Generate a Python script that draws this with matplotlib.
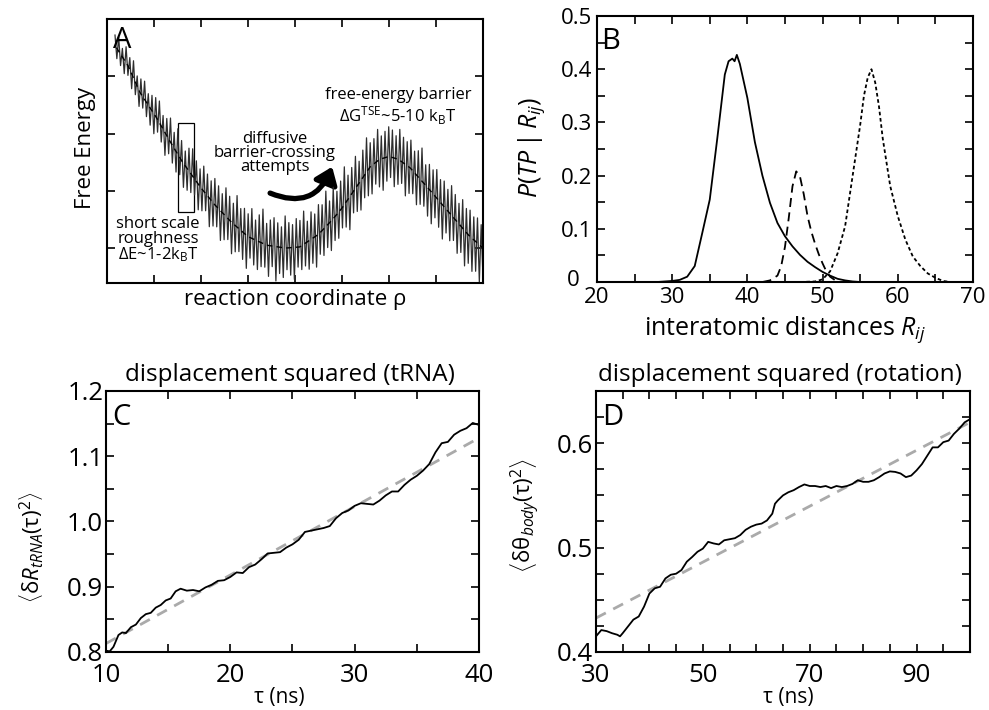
import numpy as np
import matplotlib
matplotlib.use('Agg')
import matplotlib.pyplot as plt
from matplotlib.ticker import MultipleLocator, FixedLocator, FuncFormatter
from matplotlib.patches import Rectangle, FancyArrowPatch

plt.rcParams['font.family'] = ['Open Sans', 'DejaVu Sans']
plt.rcParams['mathtext.fontset'] = 'custom'
plt.rcParams['mathtext.rm'] = 'Open Sans'
plt.rcParams['mathtext.it'] = 'Open Sans:italic'
plt.rcParams['mathtext.bf'] = 'Open Sans:bold'

# ---- panel A: schematic landscape (reaction coordinate in tick units 0..8)
smooth_x = [0.2, 0.45, 0.7, 1.05, 1.4, 1.6, 2.0, 2.3, 2.65, 3.0, 3.4, 3.8, 4.1, 4.5,
            4.8, 5.0, 5.25, 5.6, 5.8, 6.0, 6.2, 6.45, 6.85, 7.3, 7.7, 8.0]
smooth_y = [3.5, 3.18, 2.72, 2.28, 1.78, 1.51, 1.05, 0.75, 0.45, 0.2, 0.05, 0.0, 0.02, 0.24,
            0.5, 0.7, 1.0, 1.42, 1.55, 1.6, 1.55, 1.4, 1.03, 0.6, 0.22, 0.0]
# short scale roughness read as spike offsets around the dashed curve
rough_off = [0.22, -0.18, 0.25, -0.20, 0.15, -0.24, 0.28, -0.17, 0.21, -0.26,
             0.30, -0.22, 0.18, -0.28, 0.26, -0.20, 0.32, -0.25, 0.20, -0.30,
             0.27, -0.35, 0.33, -0.22, 0.38, -0.28, 0.24, -0.40, 0.30, -0.26,
             0.42, -0.31, 0.28, -0.36, 0.45, -0.30, 0.35, -0.42, 0.26, -0.38,
             0.40, -0.33, 0.48, -0.28, 0.36, -0.45, 0.31, -0.38, 0.44, -0.30,
             0.38, -0.50, 0.34, -0.41, 0.46, -0.35, 0.40, -0.52, 0.33, -0.44,
             0.50, -0.37, 0.42, -0.55, 0.36, -0.46, 0.55, -0.40, 0.38, -0.48,
             0.44, -0.58, 0.40, -0.36, 0.52, -0.45, 0.35, -0.50, 0.47, -0.42,
             0.60, -0.40, 0.38, -0.54, 0.45, -0.36, 0.50, -0.60, 0.42, -0.46,
             0.36, -0.52, 0.56, -0.38, 0.44, -0.48, 0.40, -0.56, 0.50, -0.35,
             0.46, -0.42, 0.58, -0.40, 0.36, -0.50, 0.48, -0.44, 0.40, -0.55,
             0.52, -0.38, 0.45, -0.47, 0.62, -0.40, 0.38, -0.52, 0.55, -0.42,
             0.40, -0.46, 0.50, -0.36, 0.66, -0.44, 0.42, -0.58, 0.46, -0.38,
             0.56, -0.45, 0.38, -0.52, 0.48, -0.40, 0.60, -0.46, 0.42, -0.50,
             0.44, -0.38, 0.55, -0.48, 0.40, -0.56, 0.46, -0.42, 0.52, -0.36,
             0.48, -0.50, 0.40, -0.44, 0.54, -0.38, 0.45, -0.55, 0.42, -0.46,
             0.50, -0.40, 0.38, -0.52, 0.46, -0.44, 0.58, -0.40, 0.36, -0.50,
             0.44, -0.56, 0.42, -0.38, 0.50, -0.47, 0.40, -0.60, 0.45, -0.42,
             0.38, -0.48, 0.52, -0.40, 0.44, -0.55, 0.36, -0.46, 0.50, -0.62,
             0.42, -0.50, 0.46, -0.58, 0.40, -0.52, 0.44, -0.65, 0.38, -0.55]

# ---- panel B: P(TP | Rij)
b1_x = [26, 28, 30, 31, 32, 33, 34, 35, 36, 37, 37.5, 38, 38.3, 38.6, 39, 40, 41, 42, 43,
        44, 45, 46, 47, 48, 49, 50, 51, 52, 53, 54, 55]
b1_y = [0.0, 0.0, 0.002, 0.004, 0.01, 0.03, 0.092, 0.155, 0.27, 0.39, 0.415, 0.42, 0.415,
        0.427, 0.41, 0.346, 0.263, 0.20, 0.149, 0.111, 0.086, 0.067, 0.051, 0.038, 0.028,
        0.019, 0.012, 0.006, 0.003, 0.001, 0.0]
b2_x = [42, 43, 44, 44.5, 45, 45.5, 46, 46.5, 47, 47.5, 48, 48.5, 49, 49.5, 50, 50.5, 51, 52]
b2_y = [0.0, 0.003, 0.012, 0.03, 0.066, 0.12, 0.18, 0.208, 0.198, 0.165, 0.124, 0.095,
        0.072, 0.052, 0.035, 0.02, 0.01, 0.0]
b3_x = [47, 49, 50, 51, 52, 53, 54, 55, 55.5, 56, 56.5, 57, 57.5, 58, 59, 60, 61, 62, 63,
        64, 65, 66, 67]
b3_y = [0.0, 0.001, 0.005, 0.02, 0.054, 0.105, 0.20, 0.295, 0.35, 0.384, 0.40, 0.375, 0.33,
        0.27, 0.18, 0.124, 0.08, 0.048, 0.03, 0.016, 0.008, 0.002, 0.0]

# ---- panel C: tRNA displacement squared
c_x = [10.0, 10.3, 10.6, 11.0, 11.3, 11.6, 12.0, 12.4, 12.8, 13.2, 13.6, 14.0, 14.4, 14.8,
       15.2, 15.6, 16.0, 16.5, 17.0, 17.5, 18.0, 18.5, 19.0, 19.5, 20.0, 20.5, 21.0, 21.5,
       22.0, 22.5, 23.0, 23.5, 24.0, 24.5, 25.0, 25.5, 26.0, 26.5, 27.0, 27.5, 28.0, 28.5,
       29.0, 29.5, 30.0, 30.5, 31.0, 31.5, 32.0, 32.5, 33.0, 33.5, 34.0, 34.5, 35.0, 35.5,
       36.0, 36.5, 37.0, 37.5, 38.0, 38.5, 39.0, 39.5, 40.0]
c_y = [0.802, 0.801, 0.808, 0.826, 0.830, 0.829, 0.838, 0.842, 0.852, 0.858, 0.860, 0.868,
       0.872, 0.879, 0.882, 0.893, 0.897, 0.894, 0.895, 0.893, 0.899, 0.903, 0.909, 0.910,
       0.915, 0.922, 0.921, 0.930, 0.934, 0.942, 0.951, 0.952, 0.953, 0.960, 0.965, 0.972,
       0.984, 0.986, 0.988, 0.990, 0.993, 1.005, 1.013, 1.017, 1.024, 1.028, 1.027, 1.026,
       1.032, 1.040, 1.046, 1.046, 1.056, 1.064, 1.070, 1.078, 1.088, 1.106, 1.120, 1.122,
       1.133, 1.139, 1.143, 1.151, 1.148]
c_fit_x = [10, 40]
c_fit_y = [0.813, 1.128]

# ---- panel D: rotation displacement squared
d_x = [30, 31, 32, 33, 34, 34.5, 35, 36, 37, 38, 39, 40, 41, 42, 43, 44, 45, 46, 47, 48, 49,
       50, 51, 52, 53, 54, 55, 56, 57, 58, 59, 60, 61, 62, 63, 63.5, 64, 65, 66, 67, 68, 69,
       70, 71, 72, 73, 74, 75, 76, 77, 78, 79, 80, 81, 82, 83, 84, 85, 86, 87, 88, 89, 90,
       91, 92, 93, 94, 95, 96, 97, 98, 99, 100]
d_y = [0.415, 0.421, 0.420, 0.418, 0.4165, 0.415, 0.418, 0.4245, 0.431, 0.434, 0.4435,
       0.456, 0.461, 0.4625, 0.4705, 0.474, 0.475, 0.4785, 0.4865, 0.491, 0.496, 0.499,
       0.5055, 0.504, 0.503, 0.507, 0.508, 0.509, 0.512, 0.517, 0.520, 0.522, 0.523, 0.526,
       0.5325, 0.542, 0.545, 0.550, 0.553, 0.555, 0.558, 0.5605, 0.559, 0.559, 0.558, 0.559,
       0.557, 0.559, 0.558, 0.559, 0.561, 0.5645, 0.563, 0.563, 0.5645, 0.5675, 0.571,
       0.573, 0.5725, 0.571, 0.5675, 0.569, 0.574, 0.580, 0.588, 0.596, 0.596, 0.601,
       0.6025, 0.609, 0.614, 0.620, 0.623]
d_fit_x = [30, 100]
d_fit_y = [0.4325, 0.620]


def style_axes(ax, fs, xpad, ypad):
    for s in ax.spines.values():
        s.set_linewidth(1.5)
    ax.tick_params(which='both', direction='in', top=True, right=True,
                   length=6, width=1.2, labelsize=fs)
    ax.tick_params(axis='x', pad=xpad)
    ax.tick_params(axis='y', pad=ypad)


def place_labels(ax, xlab, xc, ylab, yc, fs_x, fs_y):
    ax.set_xlabel(xlab, fontsize=fs_x, va='center')
    ax.set_ylabel(ylab, fontsize=fs_y, va='center')
    ax.xaxis.set_label_coords(*xc)
    ax.yaxis.set_label_coords(*yc)


fig = plt.figure(figsize=(9.89, 7.10), dpi=100)

# panel A
axA = fig.add_axes([0.1082, 0.6014, 0.3802, 0.3718])
rx = np.linspace(smooth_x[0] - 0.03, smooth_x[-1], len(rough_off))
ry = np.interp(rx, smooth_x, smooth_y) + np.array(rough_off)
axA.plot(rx, ry, color='#2e2e2e', lw=0.9)
axA.plot(smooth_x, smooth_y, color='black', lw=1.0, dashes=(4, 3))
axA.set_xlim(0, 8)
axA.set_ylim(-0.61, 4)
axA.xaxis.set_major_locator(MultipleLocator(1))
axA.yaxis.set_major_locator(FixedLocator([0, 1, 2, 3]))
style_axes(axA, 12, 3, 3)
axA.tick_params(labelbottom=False, labelleft=False)
place_labels(axA, 'reaction coordinate ρ', (0.5, -0.064), 'Free Energy', (-0.0585, 0.511), 16, 16)
axA.text(0.016, 0.975, 'A', transform=axA.transAxes, fontsize=21, va='top', ha='left')
axA.add_patch(Rectangle((1.51, 0.63), 0.34, 1.55, fill=False, lw=0.9, ec='black'))
axA.text(0.136, 0.163, 'short scale\nroughness\nΔE~1-2k$_\\mathrm{B}$T', fontsize=12,
         ha='center', va='center', linespacing=0.92, transform=axA.transAxes)
axA.text(0.447, 0.492, 'diffusive\nbarrier-crossing\nattempts', fontsize=12,
         ha='center', va='center', linespacing=0.82, transform=axA.transAxes)
axA.text(0.774, 0.667, 'free-energy barrier\nΔG$^\\mathrm{TSE}$~5-10 k$_\\mathrm{B}$T', fontsize=12,
         ha='center', va='center', linespacing=1.1, transform=axA.transAxes)
axA.add_patch(FancyArrowPatch((3.47, 0.96), (4.79, 1.42), connectionstyle='arc3,rad=0.5',
                              arrowstyle='-|>,head_length=6,head_width=4.5', lw=3.8,
                              color='black', mutation_scale=1.6, shrinkA=0, shrinkB=0))

# panel B
axB = fig.add_axes([0.6036, 0.6028, 0.3802, 0.3746])
axB.plot(b1_x, b1_y, color='black', lw=1.3)
axB.plot(b2_x, b2_y, color='black', lw=1.3, dashes=(5, 3))
axB.plot(b3_x, b3_y, color='black', lw=1.3, dashes=(2, 1.5))
axB.set_xlim(20, 70)
axB.set_ylim(0, 0.5)
axB.xaxis.set_major_locator(MultipleLocator(10))
axB.xaxis.set_minor_locator(MultipleLocator(5))
axB.yaxis.set_major_locator(MultipleLocator(0.1))
axB.yaxis.set_minor_locator(MultipleLocator(0.05))
axB.yaxis.set_major_formatter(FuncFormatter(lambda v, p: '' if abs(v) < 1e-9 else '%.1f' % v))
style_axes(axB, 16, 3.6, 3.6)
axB.text(-0.045, 0.006, '0', transform=axB.transAxes, fontsize=16, ha='right', va='center')
place_labels(axB, 'interatomic distances $R_{ij}$', (0.5, -0.18),
             '$P(TP\\,|\\,R_{ij})$', (-0.173, 0.508), 18, 18)
axB.text(0.01, 0.96, 'B', transform=axB.transAxes, fontsize=21, va='top', ha='left')

# panel C
axC = fig.add_axes([0.1072, 0.0817, 0.3771, 0.3676])
axC.plot(c_fit_x, c_fit_y, color='#aaaaaa', lw=2.0, dashes=(4, 3))
axC.plot(c_x, c_y, color='black', lw=1.3)
axC.set_xlim(10, 40)
axC.set_ylim(0.8, 1.2)
axC.xaxis.set_major_locator(MultipleLocator(10))
axC.xaxis.set_minor_locator(MultipleLocator(5))
axC.yaxis.set_major_locator(MultipleLocator(0.1))
axC.yaxis.set_minor_locator(MultipleLocator(0.05))
axC.yaxis.set_major_formatter(FuncFormatter(lambda v, p: '%.1f' % v))
style_axes(axC, 18.5, 8.0, 2)
axC.text(0.493, 1.061, 'displacement squared (tRNA)', transform=axC.transAxes,
         fontsize=17.5, ha='center', va='center')
place_labels(axC, 'τ (ns)', (0.464, -0.175),
             '$\\left\\langle \\mathrm{\\delta} R_{tRNA}(\\mathrm{\\tau})^2 \\right\\rangle$',
             (-0.201, 0.402), 15, 16)
axC.text(0.016, 0.955, 'C', transform=axC.transAxes, fontsize=21, va='top', ha='left')

# panel D
axD = fig.add_axes([0.6026, 0.0817, 0.3782, 0.3676])
axD.plot(d_fit_x, d_fit_y, color='#aaaaaa', lw=2.0, dashes=(4, 3))
axD.plot(d_x, d_y, color='black', lw=1.3)
axD.set_xlim(30, 100)
axD.set_ylim(0.4, 0.65)
axD.xaxis.set_major_locator(FixedLocator([30, 50, 70, 90]))
axD.xaxis.set_minor_locator(MultipleLocator(5))
axD.yaxis.set_major_locator(FixedLocator([0.4, 0.5, 0.6]))
axD.yaxis.set_minor_locator(MultipleLocator(0.025))
axD.yaxis.set_major_formatter(FuncFormatter(lambda v, p: '%.1f' % v))
style_axes(axD, 18.5, 8.0, 2)
axD.text(0.492, 1.061, 'displacement squared (rotation)', transform=axD.transAxes,
         fontsize=17.5, ha='center', va='center')
place_labels(axD, 'τ (ns)', (0.513, -0.175),
             '$\\left\\langle \\mathrm{\\delta\\theta}_{body}(\\mathrm{\\tau})^2 \\right\\rangle$',
             (-0.19, 0.525), 15, 16)
axD.text(0.016, 0.955, 'D', transform=axD.transAxes, fontsize=21, va='top', ha='left')

fig.savefig('out.png', dpi=100)
